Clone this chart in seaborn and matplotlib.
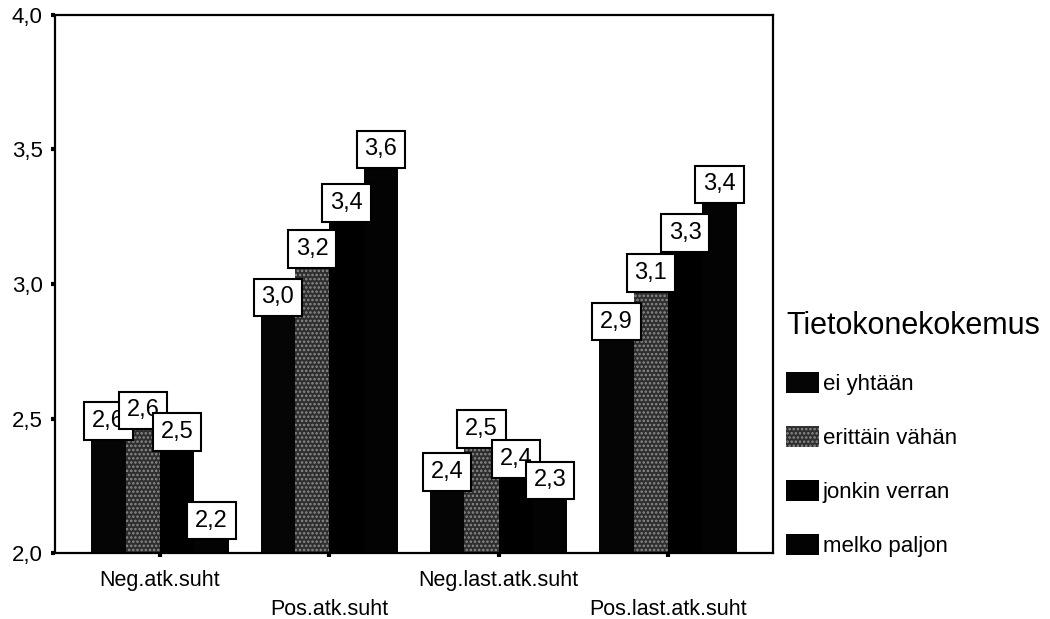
import matplotlib
matplotlib.use("Agg")
import matplotlib.pyplot as plt
import seaborn as sns
import pandas as pd
from matplotlib.patches import Patch

# Mean attitude scores by computer experience
categories = ["Neg.atk.suht", "Pos.atk.suht", "Neg.last.atk.suht", "Pos.last.atk.suht"]
groups = ["ei yhtään", "erittäin vähän", "jonkin verran", "melko paljon"]
ei_yhtaan = [2.56, 3.02, 2.37, 2.93]
erittain_vahan = [2.60, 3.20, 2.53, 3.11]
jonkin_verran = [2.52, 3.37, 2.42, 3.26]
melko_paljon = [2.19, 3.57, 2.34, 3.44]
y_ticks = [2.0, 2.5, 3.0, 3.5, 4.0]
legend_title = "Tietokonekokemus"

series = [ei_yhtaan, erittain_vahan, jonkin_verran, melko_paljon]
rows = []
for g, vals in zip(groups, series):
    for c, v in zip(categories, vals):
        rows.append({"muuttuja": c, "kokemus": g, "arvo": v})
df = pd.DataFrame(rows)

colors = ["#050505", "#2e2e2e", "#000000", "#030303"]
palette = dict(zip(groups, colors))

sns.set_theme(style="white")
plt.rcParams["font.family"] = ["Liberation Sans", "DejaVu Sans"]
plt.rcParams["hatch.linewidth"] = 1.2
plt.rcParams["text.color"] = "black"
plt.rcParams["xtick.color"] = "black"
plt.rcParams["ytick.color"] = "black"
plt.rcParams["xtick.labelcolor"] = "black"
plt.rcParams["ytick.labelcolor"] = "black"

fig = plt.figure(figsize=(10.5, 6.19), dpi=100)
ax = fig.add_axes([0.0524, 0.1066, 0.6838, 0.8692])

sns.barplot(data=df, x="muuttuja", y="arvo", hue="kokemus", order=categories,
            hue_order=groups, palette=palette, width=0.81, saturation=1,
            linewidth=0, ax=ax, legend=False)

# dotted texture on the second series
for bar in ax.containers[1]:
    bar.set_hatch("....")
    bar.set_edgecolor("#8c8c8c")
    bar.set_linewidth(0)

ax.set_ylim(2.0, 4.0)
ax.set_xlim(-0.62, 3.62)
ax.set_yticks(y_ticks)
ax.set_yticklabels([f"{t:.1f}".replace(".", ",") for t in y_ticks], fontsize=16)
ax.set_xticks(range(len(categories)))
ax.set_xticklabels([c if i % 2 == 0 else "\n" + c for i, c in enumerate(categories)],
                   fontsize=15.5)
for lab in ax.get_xticklabels():
    lab.set_linespacing(1.5)
ax.set_xlabel("")
ax.set_ylabel("")
ax.tick_params(axis="both", direction="out", length=3, width=3, color="black",
               labelcolor="black", left=True, bottom=True)
ax.tick_params(axis="y", pad=6)
ax.tick_params(axis="x", pad=9)
for s in ax.spines.values():
    s.set_visible(True)
    s.set_color("black")
    s.set_linewidth(1.6)

# value boxes: top edge sits at the bar value
for cont in ax.containers:
    for bar in cont:
        h = bar.get_height()
        xc = bar.get_x() + bar.get_width() / 2
        ax.annotate(f"{h:.1f}".replace(".", ","), xy=(xc, h), xytext=(0, -13.5),
                    textcoords="offset points", ha="center", va="center",
                    fontsize=17, color="black", zorder=5,
                    bbox=dict(boxstyle="square,pad=0.33", fc="white",
                              ec="black", lw=1.5))

handles = []
for g, c in zip(groups, colors):
    p = Patch(facecolor=c, edgecolor="none")
    if g == "erittäin vähän":
        p = Patch(facecolor="#2e2e2e", edgecolor="#8c8c8c", hatch="....", linewidth=0)
    handles.append(p)
leg = fig.legend(handles, groups, title=legend_title, loc="upper left",
                 bbox_to_anchor=(0.738, 0.515), frameon=False, fontsize=16,
                 title_fontsize=22, handlelength=1.5, handleheight=1.05,
                 handletextpad=0.15, labelspacing=1.4, borderpad=0)
leg._legend_box.align = "left"
for t in leg.get_texts():
    t.set_color("black")
leg.get_title().set_color("black")

fig.savefig("out.png", dpi=100)
